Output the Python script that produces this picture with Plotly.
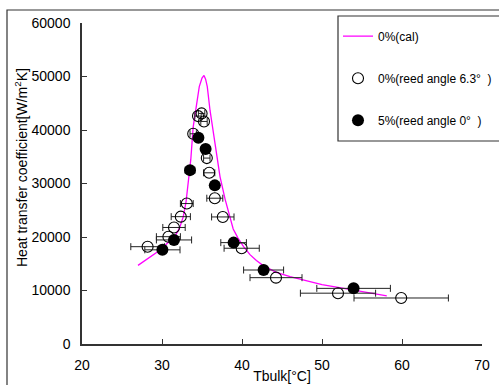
import plotly.graph_objects as go

# ---- data ----
cal_x = [27.0, 28.5, 29.5, 30.5, 31.6, 32.2, 32.66, 33.0, 33.2, 33.4, 33.6, 33.9, 34.3, 34.66,
         35.0, 35.25, 35.45, 35.66, 36.0, 36.6, 37.25, 37.9, 38.5, 38.9, 39.5, 40.2, 41.0,
         41.8, 42.7, 44.3, 46.0, 48.0, 50.0, 52.0, 54.0, 56.0, 58.1]
cal_y = [14700, 16300, 17300, 18600, 20100, 21700, 23800, 26500, 29000, 32000, 34500, 40600,
         45000, 48100, 49700, 50200, 49500, 48100, 43700, 37500, 31300, 27000, 23800, 21500,
         19800, 18200, 16700, 15600, 14600, 13400, 12600, 11800, 11100, 10600, 10050, 9500, 9000]

open_x = [28.2, 30.8, 31.5, 32.35, 33.1, 33.9, 34.5, 34.95, 35.25, 35.6, 35.9, 36.6, 37.6,
          39.96, 44.25, 52.0, 59.9]
open_y = [18190, 20060, 21780, 23800, 26250, 39300, 42600, 43100, 41600, 34750, 32000, 27250,
          23750, 17900, 12400, 9500, 8600]
open_err = [2.1, 1.5, 1.4, 1.2, 0.8, 0.4, 0.4, 0.4, 0.4, 0.4, 0.7, 1.0, 1.4, 2.2, 3.25, 4.7, 5.9]

fill_x = [30.05, 31.5, 33.5, 34.55, 35.45, 36.6, 38.95, 42.7, 53.95]
fill_y = [17600, 19450, 32500, 38550, 36450, 29650, 18950, 13830, 10400]
fill_err = [2.2, 2.2, 0.6, 0.4, 0.4, 0.5, 1.6, 2.5, 4.6]

x_ticks = [20, 30, 40, 50, 60, 70]
y_ticks = [0, 10000, 20000, 30000, 40000, 50000, 60000]

FONT = "Arial, Liberation Sans, sans-serif"

fig = go.Figure()
fig.add_trace(go.Scatter(
    x=cal_x, y=cal_y, mode="lines", name="0%(cal)",
    line=dict(color="#ff00ff", width=1.3), legendgroup="a"))
fig.add_trace(go.Scatter(
    x=open_x, y=open_y, mode="markers", name="0%(reed angle 6.3°  )",
    marker=dict(symbol="circle-open", size=11, color="#000000", line=dict(width=1.1)),
    error_x=dict(type="data", array=open_err, color="#222222", thickness=1, width=3.5),
    legendgroup="b"))
fig.add_trace(go.Scatter(
    x=fill_x, y=fill_y, mode="markers", name="5%(reed angle 0°  )",
    marker=dict(symbol="circle", size=12, color="#000000"),
    error_x=dict(type="data", array=fill_err, color="#222222", thickness=1, width=3.5),
    legendgroup="c"))

axis_common = dict(
    showgrid=False, zeroline=False, showline=True, linecolor="#333333", linewidth=1.5,
    ticks="inside", ticklen=5, tickcolor="#333333", tickwidth=1.2,
    tickfont=dict(family=FONT, size=14, color="#000000"), mirror=False, tickformat="d",
)

fig.update_layout(
    width=499, height=385,
    margin=dict(l=82, r=17, t=23, b=41, autoexpand=False),
    paper_bgcolor="white", plot_bgcolor="white",
    font=dict(family=FONT, color="#000000"),
    xaxis=dict(range=[20, 70], tickvals=x_ticks, ticklabelstandoff=7,
               title=dict(text="Tbulk[°C]", font=dict(family=FONT, size=14), standoff=0),
               **axis_common),
    yaxis=dict(range=[0, 60000], tickvals=y_ticks, ticklabelstandoff=7, **axis_common),
    annotations=[
        dict(text="Heat transfer coefficient[W/m<sup>2</sup>K]", textangle=-90,
             xref="paper", yref="paper", x=(21 - 82) / 400, y=(344 - 168) / 321,
             xanchor="center", yanchor="middle", showarrow=False,
             font=dict(family=FONT, size=14, color="#000000")),
    ],
    showlegend=True,
    legend=dict(x=0.64, y=1.004, xanchor="left", yanchor="top",
                bgcolor="rgba(0,0,0,0)", borderwidth=0,
                font=dict(family=FONT, size=12, color="#000000"),
                traceorder="grouped", tracegroupgap=23),
    shapes=[
        # outer frame
        dict(type="rect", xref="paper", yref="paper",
             x0=(7 - 82) / 400, x1=(510 - 82) / 400,
             y0=(344 - 395) / 321, y1=(344 - 10) / 321,
             line=dict(color="#333333", width=1.2), fillcolor="rgba(0,0,0,0)"),
        # legend box
        dict(type="rect", xref="paper", yref="paper",
             x0=(338 - 82) / 400, x1=(510 - 82) / 400,
             y0=(344 - 141) / 321, y1=(344 - 16) / 321,
             line=dict(color="#333333", width=1.2), fillcolor="rgba(0,0,0,0)"),
    ],
)

fig.write_html("out.html")
